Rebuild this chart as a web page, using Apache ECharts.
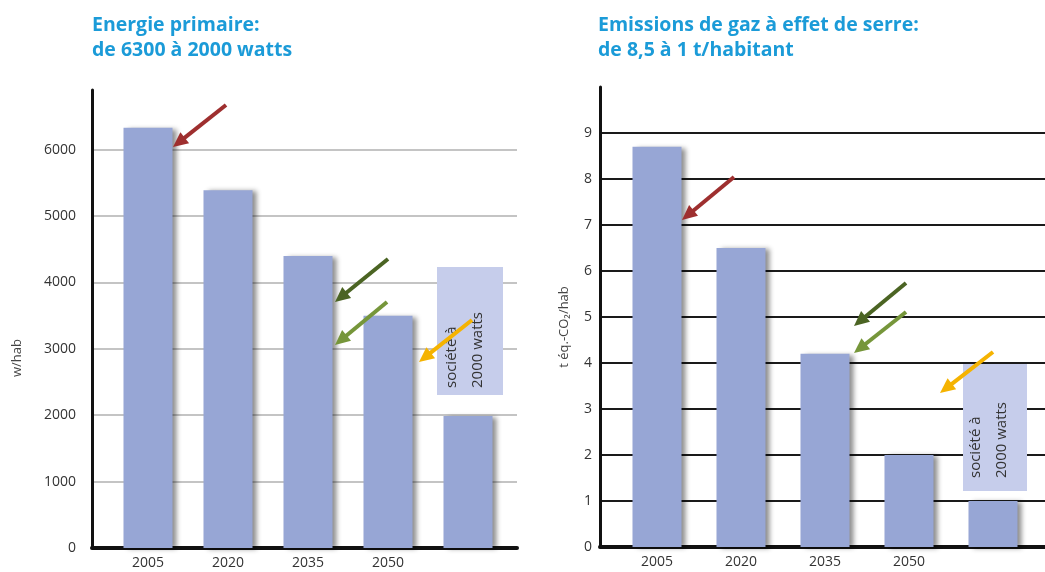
<!DOCTYPE html>
<html>
<head>
<meta charset="utf-8">
<script src="https://cdn.jsdelivr.net/npm/echarts@6/dist/echarts.min.js"></script>
<style>
html,body{margin:0;padding:0;background:#fff;}
#c{width:1045px;height:572px;}
</style>
</head>
<body>
<div id="c"></div>
<script>
// ---- data ----
const categories = ['2005', '2020', '2035', '2050', ''];
const energyValues = [6330, 5390, 4400, 3500, 1990];      // W/hab
const emissionValues = [8.7, 6.5, 4.2, 2.0, 1.0];         // t éq.-CO2/hab
const energyTitle = 'Energie primaire:\nde 6300 à 2000 watts';
const emissionTitle = 'Emissions de gaz à effet de serre:\nde 8,5 à 1 t/habitant';
const energyAxisName = 'w/hab';
const emissionAxisName = 't éq.-CO₂/hab';
const boxText = 'société à\n2000 watts';

// ---- styling ----
const BAR = '#97a6d5';
const TITLE = '#1b9bd8';
const FONT = '"Open Sans", "Noto Sans", sans-serif';
const LBL = {color: '#333', fontSize: 14, fontFamily: FONT, formatter: (v) => String(v)};

function arrow(x1, y1, x2, y2, color) {
  const dx = x2 - x1, dy = y2 - y1, L = Math.hypot(dx, dy);
  const ux = dx / L, uy = dy / L, px = -uy, py = ux;
  const hl = 15, hw = 7;
  const bx = x2 - ux * hl, by = y2 - uy * hl;
  return [
    {type: 'line', z: 100, shape: {x1: x1, y1: y1, x2: bx + ux * 2, y2: by + uy * 2},
     style: {stroke: color, lineWidth: 4}},
    {type: 'polygon', z: 100, shape: {points: [[x2, y2], [bx + px * hw, by + py * hw], [bx - px * hw, by - py * hw]]},
     style: {fill: color}}
  ];
}
function box(x, y, w, h, tx, ty) {
  return [
    {type: 'rect', z: 90, shape: {x: x, y: y, width: w, height: h}, style: {fill: '#c6cdeb'}},
    {type: 'text', z: 91, x: tx, y: ty, rotation: Math.PI / 2,
     style: {text: boxText, fill: '#333', fontSize: 15, lineHeight: 26, fontFamily: FONT,
             align: 'left', verticalAlign: 'middle'}}
  ];
}

const frameX = (gi) => ({
  type: 'value', gridIndex: gi, min: 0, max: 1,
  axisLine: {show: true, lineStyle: {color: '#111', width: 4}},
  axisTick: {show: false}, axisLabel: {show: false}, splitLine: {show: false}
});
const barX = (gi) => ({
  type: 'category', gridIndex: gi, data: categories,
  axisLine: {show: false}, axisTick: {show: false},
  axisLabel: Object.assign({}, LBL, {margin: 8, formatter: null})
});

const option = {
  animation: false,
  backgroundColor: '#fff',
  title: [
    {text: energyTitle, left: 87, top: 8,
     textStyle: {color: TITLE, fontSize: 19.5, fontWeight: 'bold', fontFamily: FONT, lineHeight: 25}},
    {text: emissionTitle, left: 593, top: 8,
     textStyle: {color: TITLE, fontSize: 19.5, fontWeight: 'bold', fontFamily: FONT, lineHeight: 25}}
  ],
  grid: [
    {left: 92, top: 90, width: 425, height: 458},
    {left: 108, top: 90, width: 400, height: 458},
    {left: 600, top: 87, width: 445, height: 460},
    {left: 615, top: 87, width: 420, height: 460}
  ],
  xAxis: [frameX(0), barX(1), frameX(2), barX(3)],
  yAxis: [
    {type: 'value', gridIndex: 0, min: 0, max: 6900, interval: 1000,
     axisLine: {show: true, lineStyle: {color: '#111', width: 3}},
     axisTick: {show: false},
     axisLabel: Object.assign({margin: 16, showMaxLabel: false}, LBL),
     splitLine: {show: true, showMaxLine: false, showMinLine: false, lineStyle: {color: '#c4c4c4', width: 2}}},
    {type: 'value', gridIndex: 1, min: 0, max: 6900, show: false},
    {type: 'value', gridIndex: 2, min: 0, max: 10, interval: 1,
     axisLine: {show: true, lineStyle: {color: '#111', width: 3}},
     axisTick: {show: false},
     axisLabel: Object.assign({margin: 8, showMaxLabel: false}, LBL),
     splitLine: {show: true, showMaxLine: false, showMinLine: false, lineStyle: {color: '#1a1a1a', width: 2}}},
    {type: 'value', gridIndex: 3, min: 0, max: 10, show: false}
  ],
  series: [
    {type: 'bar', xAxisIndex: 1, yAxisIndex: 1, data: energyValues, barWidth: 49,
     itemStyle: {color: BAR, shadowColor: 'rgba(0,0,0,0.45)', shadowBlur: 5, shadowOffsetX: 4, shadowOffsetY: 1}},
    {type: 'bar', xAxisIndex: 3, yAxisIndex: 3, data: emissionValues, barWidth: 49,
     itemStyle: {color: BAR, shadowColor: 'rgba(0,0,0,0.45)', shadowBlur: 5, shadowOffsetX: 4, shadowOffsetY: 1}}
  ],
  graphic: [].concat(
    [{type: 'text', z: 100, x: 17, y: 358, rotation: Math.PI / 2,
      style: {text: energyAxisName, fill: '#444', fontSize: 13, fontFamily: FONT, align: 'center', verticalAlign: 'middle'}},
     {type: 'text', z: 100, x: 564, y: 327, rotation: Math.PI / 2,
      style: {text: emissionAxisName, fill: '#444', fontSize: 13, fontFamily: FONT, align: 'center', verticalAlign: 'middle'}}],
    box(437, 267, 66, 128, 465, 388),
    box(963, 364, 64, 127, 989, 478),
    arrow(226, 105, 173, 147, '#9e2f2f'),
    arrow(388, 259, 335, 302, '#4b6423'),
    arrow(387, 302, 335, 345, '#76963a'),
    arrow(472, 320, 419, 362, '#f5b301'),
    arrow(734, 177, 682, 220, '#9e2f2f'),
    arrow(906, 283, 854, 326, '#4b6423'),
    arrow(906, 312, 854, 353, '#76963a'),
    arrow(993, 352, 940, 393, '#f5b301')
  )
};

const chart = echarts.init(document.getElementById('c'), null, {renderer: 'canvas'});
chart.setOption(option);
</script>
</body>
</html>
